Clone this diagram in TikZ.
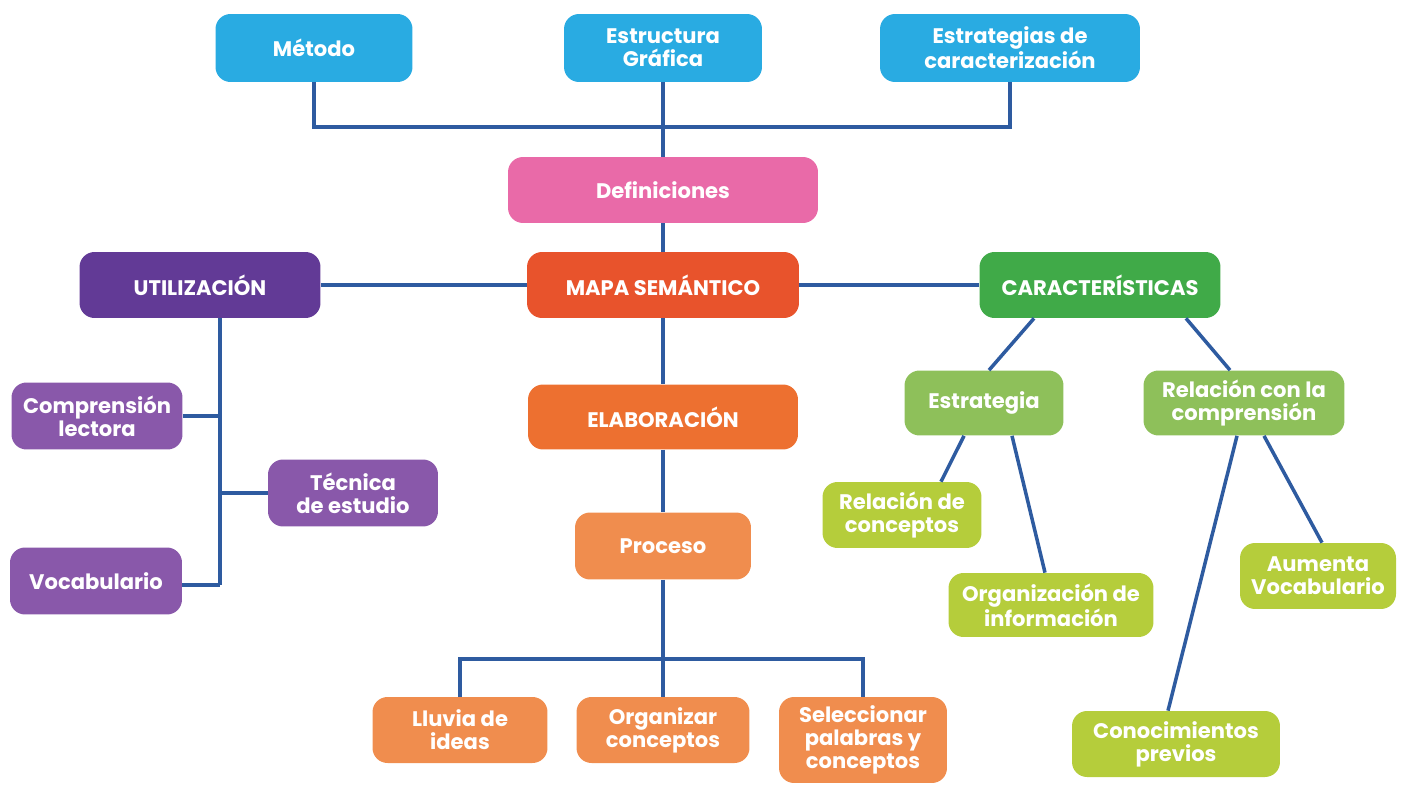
\documentclass[tikz,border=0pt]{standalone}
\usepackage{fontspec}
\setmainfont{Poppins}
\usepackage{tikz}

\definecolor{cyanbox}{RGB}{41,171,226}
\definecolor{pinkbox}{RGB}{233,106,168}
\definecolor{redbox}{RGB}{232,83,44}
\definecolor{orangebox}{RGB}{237,112,48}
\definecolor{peachbox}{RGB}{240,141,78}
\definecolor{darkpurple}{RGB}{98,58,150}
\definecolor{purplebox}{RGB}{137,88,170}
\definecolor{greenbox}{RGB}{64,170,72}
\definecolor{midgreen}{RGB}{142,192,90}
\definecolor{limebox}{RGB}{181,205,59}
\definecolor{linkblue}{RGB}{46,91,160}

\begin{document}
\begin{tikzpicture}[x=0.02cm,y=-0.02cm]
\tikzstyle{every node}=[rounded corners=0.3cm, inner sep=1pt, minimum height=1.32cm, align=center, text=white, font=\fontsize{12}{13}\selectfont\bfseries]
\tikzstyle{link}=[draw=linkblue, line width=2pt]
\useasboundingbox (0,0) rectangle (1406,787);
\draw (314,48) node (metodo) [fill=cyanbox, minimum width=3.94cm, minimum height=1.36cm] {Método};
\draw (663,48) node (estruct) [fill=cyanbox, minimum width=3.96cm, minimum height=1.36cm] {Estructura\\Gráfica};
\draw (1010,48) node (estrat) [fill=cyanbox, minimum width=5.2cm, minimum height=1.36cm] {Estrategias de\\caracterización};
\draw (663,190) node (defin) [fill=pinkbox, minimum width=6.2cm] {Definiciones};
\draw (663,285) node (mapa) [fill=redbox, minimum width=5.44cm] {MAPA SEMÁNTICO};
\draw (200,285) node (utiliz) [fill=darkpurple, minimum width=4.82cm] {UTILIZACIÓN};
\draw (1100,285) node (caract) [fill=greenbox, minimum width=4.82cm] {CARACTERÍSTICAS};
\draw (663,417) node (elab) [fill=orangebox, minimum width=5.4cm, minimum height=1.3cm] {ELABORACIÓN};
\draw (663,546) node (proceso) [fill=peachbox, minimum width=3.52cm, minimum height=1.34cm] {Proceso};
\draw (460,730) node (lluvia) [fill=peachbox, minimum width=3.5cm] {Lluvia de\\ideas};
\draw (663,730) node (organ) [fill=peachbox, minimum width=3.46cm] {Organizar\\conceptos};
\draw (863,740) node (selecc) [fill=peachbox, minimum width=3.36cm, minimum height=1.72cm] {Seleccionar\\palabras y\\conceptos};
\draw (97,416) node (compr) [fill=purplebox, minimum width=3.42cm, minimum height=1.34cm] {Comprensión\\lectora};
\draw (353,493) node (tecnica) [fill=purplebox, minimum width=3.4cm, minimum height=1.34cm] {Técnica\\de estudio};
\draw (96,581) node (vocab) [fill=purplebox, minimum width=3.44cm, minimum height=1.34cm] {Vocabulario};
\draw (984,403) node (estrategia) [fill=midgreen, minimum width=3.18cm, minimum height=1.3cm] {Estrategia};
\draw (1244,403) node (relacion) [fill=midgreen, minimum width=4.02cm, minimum height=1.3cm] {Relación con la\\comprensión};
\draw (902,515) node (relconc) [fill=limebox, minimum width=3.18cm] {Relación de\\conceptos};
\draw (1051,605) node (orginfo) [fill=limebox, minimum width=4.1cm, minimum height=1.28cm] {Organización de\\información};
\draw (1318,576) node (aumenta) [fill=limebox, minimum width=3.12cm] {Aumenta\\Vocabulario};
\draw (1176,744) node (conoc) [fill=limebox, minimum width=4.16cm] {Conocimientos\\previos};
\coordinate (tj) at (663,127);
\coordinate (bj) at (663,659);
\coordinate (ul) at (220,585);
\draw[link] (metodo) |- (tj) -| (estrat);
\draw[link] (estruct) -- (defin);
\draw[link] (defin) -- (mapa);
\draw[link] (utiliz) -- (mapa);
\draw[link] (mapa) -- (caract);
\draw[link] (mapa) -- (elab);
\draw[link] (elab) -- (proceso);
\draw[link] (proceso) -- (organ);
\draw[link] (lluvia) |- (bj) -| (selecc);
\draw[link] (utiliz.south -| ul) -- (ul);
\draw[link] (compr) -- (compr -| ul);
\draw[link] (tecnica) -- (tecnica -| ul);
\draw[link] (vocab.east |- ul) -- (ul);
\draw[link] ([xshift=-1.32cm]caract.south) -- ([xshift=0.1cm]estrategia.north);
\draw[link] ([xshift=1.72cm]caract.south) -- ([xshift=-0.28cm]relacion.north);
\draw[link] ([xshift=-0.4cm]estrategia.south) -- ([xshift=0.78cm]relconc.north);
\draw[link] ([xshift=0.56cm]estrategia.south) -- ([xshift=-0.12cm]orginfo.north);
\draw[link] ([xshift=0.4cm]relacion.south) -- ([xshift=0.08cm]aumenta.north);
\draw[link] ([xshift=-0.14cm]relacion.south) -- ([xshift=-0.16cm]conoc.north);
\end{tikzpicture}
\end{document}
